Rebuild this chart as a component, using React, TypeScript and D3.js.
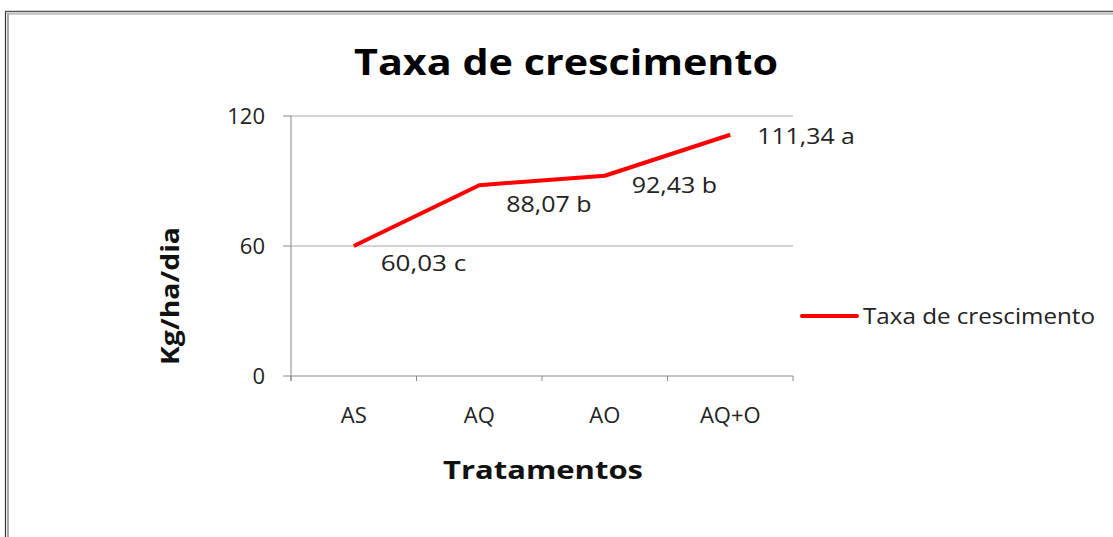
import React from "react";
import * as d3 from "d3";

const categories = ["AS", "AQ", "AO", "AQ+O"];
const values = [60.03, 88.07, 92.43, 111.34];
const letters = ["c", "b", "b", "a"];
const yTicks = [0, 60, 120];
const seriesName = "Taxa de crescimento";
const labelDy = [17, 19, 9, 1];

const W = 1113;
const H = 537;
const FONT = "'Open Sans', 'DejaVu Sans', sans-serif";

export default function App() {
  const left = 291, right = 793, top = 116, bottom = 376;
  const x = d3.scaleBand<string>().domain(categories).range([left, right]).padding(0);
  const y = d3.scaleLinear().domain([0, 120]).range([bottom, top]);
  const cx = (c: string) => (x(c) as number) + x.bandwidth() / 2;
  const line = d3
    .line<number>()
    .x((_, i) => cx(categories[i]))
    .y((v) => y(v));
  const fmt = (v: number) => v.toFixed(2).replace(".", ",");
  const tickXs = [...categories.map((c) => x(c) as number), right];
  const labelText = (i: number) => `${fmt(values[i])} ${letters[i]}`;

  return (
    <svg
      width={W}
      height={H}
      style={{ position: "absolute", left: 0, top: 0, background: "#fff" }}
      fontFamily={FONT}
    >
      {/* frame */}
      <line x1={5.5} y1={11} x2={5.5} y2={H} stroke="#333" strokeWidth={1.2} />
      <line x1={8} y1={13} x2={8} y2={H} stroke="#aaa" strokeWidth={2} />
      <line x1={5} y1={11.5} x2={W} y2={11.5} stroke="#555" strokeWidth={1.5} />
      <line x1={8} y1={13.8} x2={W} y2={13.8} stroke="#aaa" strokeWidth={1.2} />

      {/* title */}
      <text x={566} y={75} textAnchor="middle" fontSize={36} fontWeight="bold" fill="#000" textLength={424} lengthAdjust="spacingAndGlyphs">
        {seriesName}
      </text>

      {/* gridlines */}
      {yTicks.filter((t) => t > 0).map((t) => (
        <line key={t} x1={left} x2={right} y1={y(t)} y2={y(t)} stroke="#a6a6a6" strokeWidth={1} />
      ))}
      {/* y axis */}
      <line x1={left} x2={left} y1={top} y2={bottom + 5} stroke="#888" strokeWidth={1} />
      {yTicks.map((t) => (
        <g key={t}>
          <line x1={left - 8} x2={left} y1={y(t)} y2={y(t)} stroke="#888" />
          <text x={265} y={y(t) + 8} textAnchor="end" fontSize={22} fill="#222">
            {t}
          </text>
        </g>
      ))}
      {/* x axis */}
      <line x1={left} x2={right} y1={bottom} y2={bottom} stroke="#888" strokeWidth={1} />
      {tickXs.map((tx, i) => (
        <line key={i} x1={tx} x2={tx} y1={bottom} y2={bottom + 5} stroke="#888" />
      ))}
      {categories.map((c) => (
        <text key={c} x={cx(c)} y={423} textAnchor="middle" fontSize={22} fill="#222">
          {c}
        </text>
      ))}

      {/* axis titles */}
      <text x={543} y={479} textAnchor="middle" fontSize={25} fontWeight="bold" fill="#111" textLength={200} lengthAdjust="spacingAndGlyphs">
        Tratamentos
      </text>
      <text
        transform={`translate(179,296) rotate(-90)`}
        textAnchor="middle"
        fontSize={25}
        fontWeight="bold"
        fill="#111"
        textLength={138}
        lengthAdjust="spacingAndGlyphs"
      >
        Kg/ha/dia
      </text>

      {/* series */}
      <path d={line(values) || ""} fill="none" stroke="#ff0000" strokeWidth={4} strokeLinejoin="round" />
      {values.map((v, i) => (
        <text
          key={i}
          x={cx(categories[i]) + 27}
          y={y(v) + labelDy[i] + 8}
          fontSize={21}
          fill="#222"
          textLength={labelText(i).length * 12.2}
          lengthAdjust="spacingAndGlyphs"
        >
          {labelText(i)}
        </text>
      ))}

      {/* legend */}
      <line x1={802} x2={857} y1={316} y2={316} stroke="#ff0000" strokeWidth={4} strokeLinecap="round" />
      <text x={863} y={324} fontSize={21} fill="#222" textLength={232} lengthAdjust="spacingAndGlyphs">
        {seriesName}
      </text>
    </svg>
  );
}
